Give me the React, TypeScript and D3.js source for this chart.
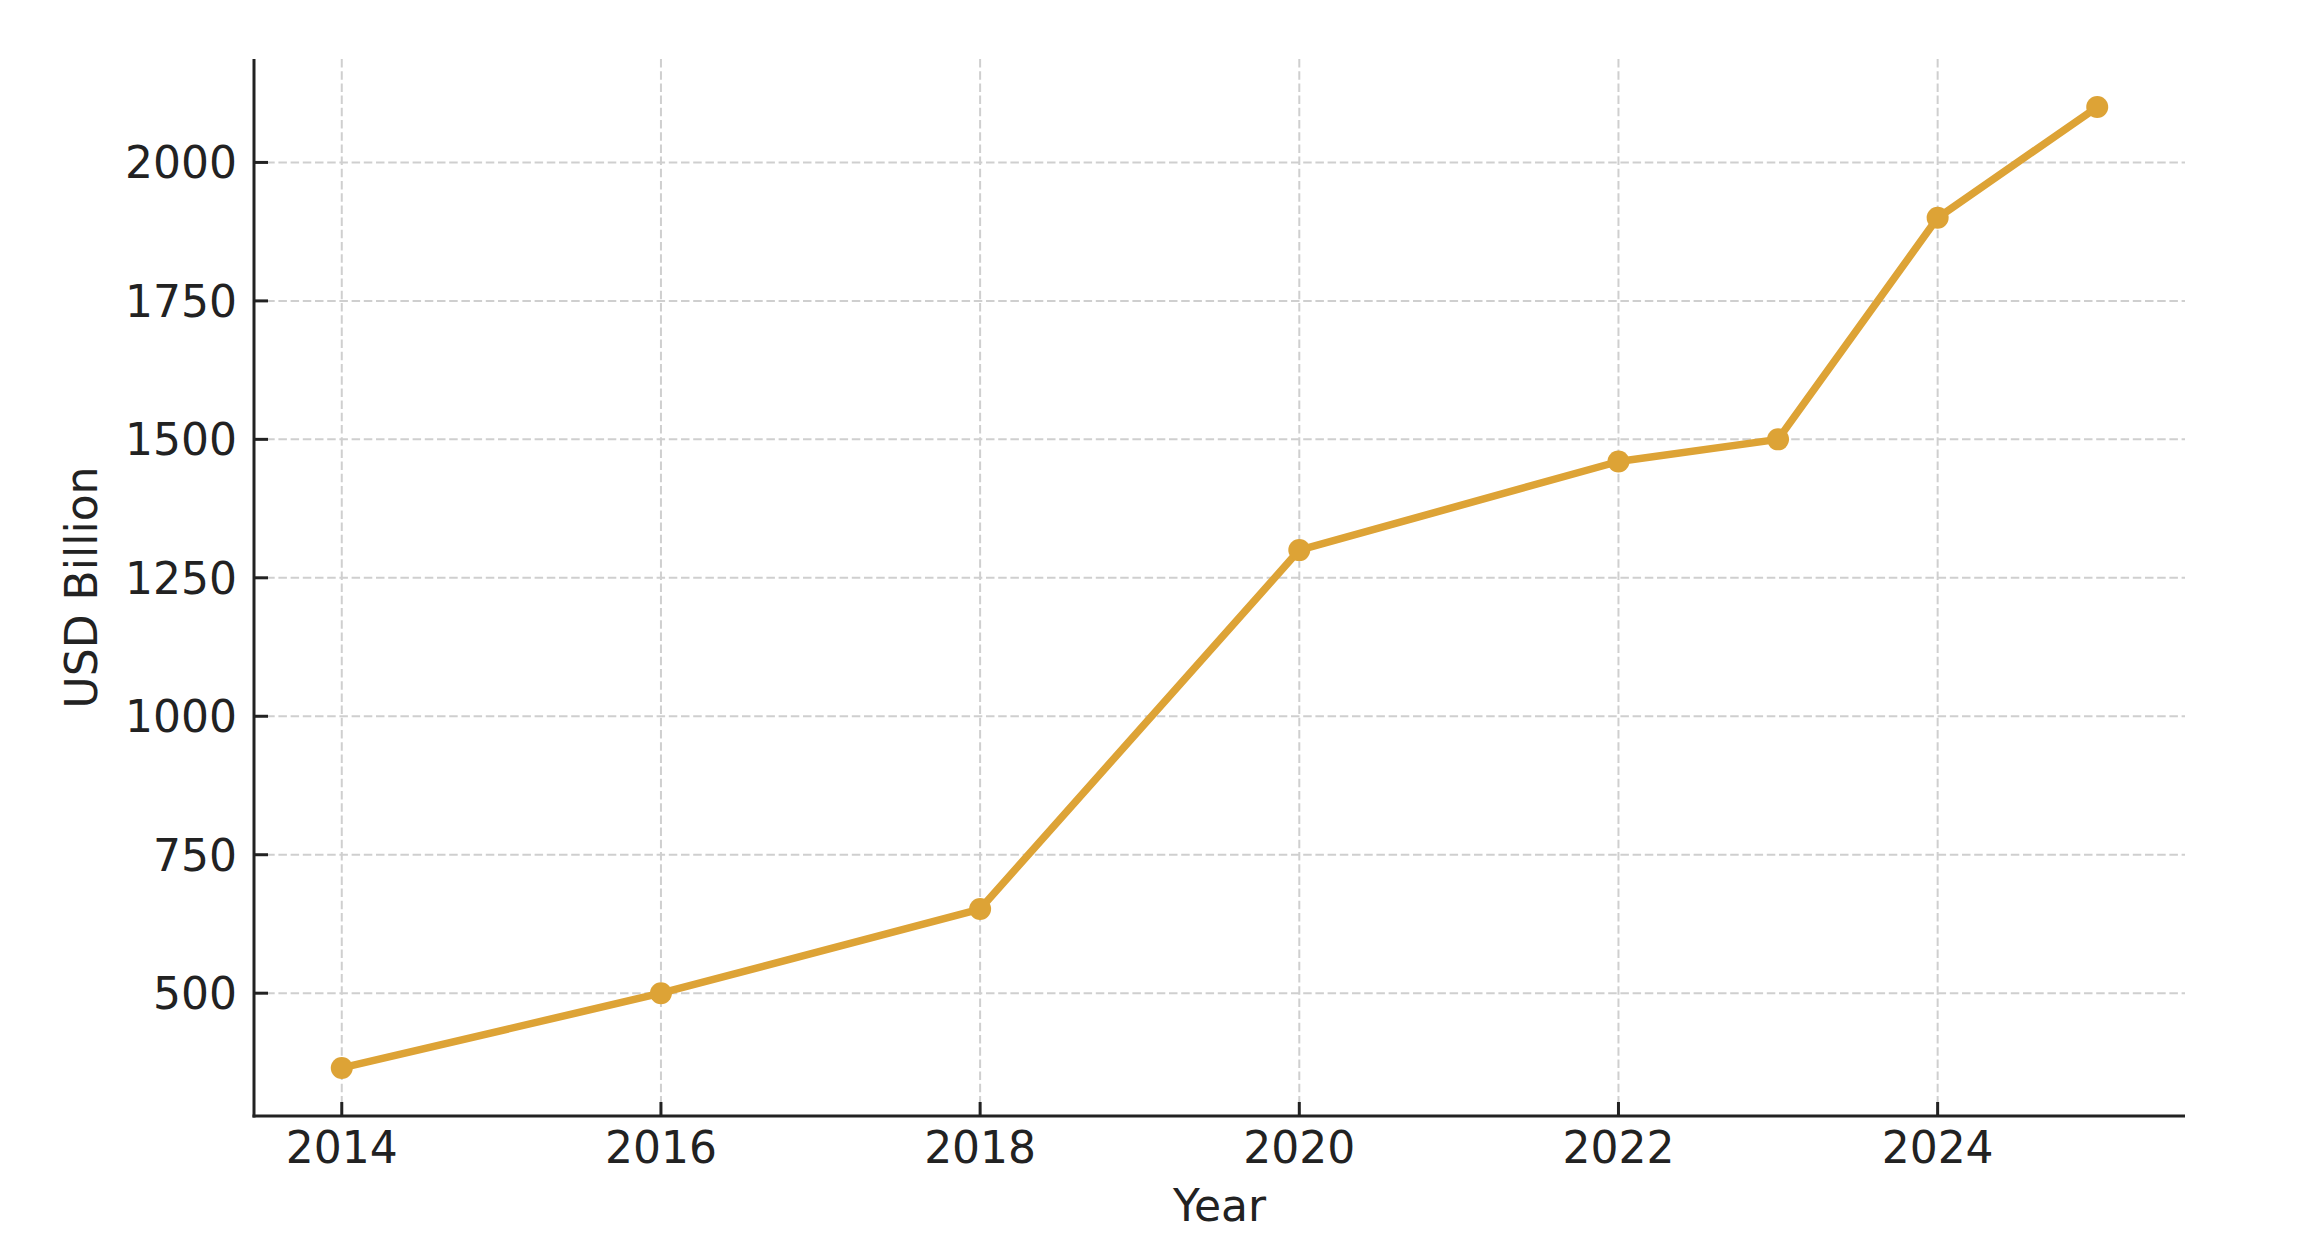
import React from "react";
import * as d3 from "d3";

const years: number[] = [2014, 2016, 2018, 2020, 2022, 2023, 2024, 2025];
const values: number[] = [365, 500, 652, 1300, 1460, 1500, 1900, 2100];
const xTicks: number[] = [2014, 2016, 2018, 2020, 2022, 2024];
const yTicks: number[] = [500, 750, 1000, 1250, 1500, 1750, 2000];
const xLabel = "Year";
const yLabel = "USD Billion";

const W = 2324;
const H = 1252;
const left = 254;
const right = 2185;
const top = 59;
const bottom = 1116;

export default function App() {
  const ymin = d3.min(values)!;
  const ymax = d3.max(values)!;
  const ypad = (ymax - ymin) * 0.05;
  const xmin = d3.min(years)!;
  const xmax = d3.max(years)!;
  const xpad = (xmax - xmin) * 0.05;
  const x = d3.scaleLinear().domain([xmin - xpad, xmax + xpad]).range([left, right]);
  const y = d3.scaleLinear().domain([ymin - ypad, ymax + ypad]).range([bottom, top]);
  const line = d3
    .line<number>()
    .x((_, i) => x(years[i]))
    .y((d) => y(d));
  const color = "#dda336";
  const font = "DejaVu Sans, sans-serif";
  const textColor = "#222222";
  return (
    <svg
      width={W}
      height={H}
      style={{ position: "absolute", left: 0, top: 0, background: "#fff" }}
    >
      <defs>
        <radialGradient id="shadow" cx="0.5" cy="1" r="0.6">
          <stop offset="0" stopColor="#ececec" />
          <stop offset="1" stopColor="#ffffff" stopOpacity="0" />
        </radialGradient>
      </defs>
      <rect x={0} y={0} width={W} height={H} fill="#fff" />
      <ellipse cx={1150} cy={1290} rx={700} ry={90} fill="url(#shadow)" />
      {/* grid */}
      <g stroke="#cfcfcf" strokeWidth={2} strokeDasharray="8.5,3.7">
        {xTicks.map((t) => (
          <line key={"gx" + t} x1={x(t)} x2={x(t)} y1={top} y2={bottom} />
        ))}
        {yTicks.map((t) => (
          <line key={"gy" + t} x1={left} x2={right} y1={y(t)} y2={y(t)} />
        ))}
      </g>
      {/* axes */}
      <g stroke="#222" strokeWidth={3}>
        <line x1={left} x2={left} y1={top} y2={bottom + 1.5} />
        <line x1={left - 1.5} x2={right} y1={bottom} y2={bottom} />
        {xTicks.map((t) => (
          <line key={"tx" + t} x1={x(t)} x2={x(t)} y1={bottom} y2={bottom - 14} />
        ))}
        {yTicks.map((t) => (
          <line key={"ty" + t} x1={left} x2={left + 14} y1={y(t)} y2={y(t)} />
        ))}
      </g>
      {/* tick labels */}
      <g fontFamily={font} fontSize={44} fill={textColor}>
        {xTicks.map((t) => (
          <text key={"lx" + t} x={x(t)} y={bottom + 47} textAnchor="middle">
            {t}
          </text>
        ))}
        {yTicks.map((t) => (
          <text key={"ly" + t} x={left - 17} y={y(t) + 16} textAnchor="end">
            {t}
          </text>
        ))}
        <text x={(left + right) / 2} y={1221} textAnchor="middle">
          {xLabel}
        </text>
        <text
          transform={`translate(97, ${(top + bottom) / 2}) rotate(-90)`}
          textAnchor="middle"
        >
          {yLabel}
        </text>
      </g>
      {/* series */}
      <path d={line(values) || ""} fill="none" stroke={color} strokeWidth={7.5} strokeLinejoin="round" />
      {values.map((v, i) => (
        <circle key={"p" + i} cx={x(years[i])} cy={y(v)} r={11} fill={color} />
      ))}
    </svg>
  );
}
